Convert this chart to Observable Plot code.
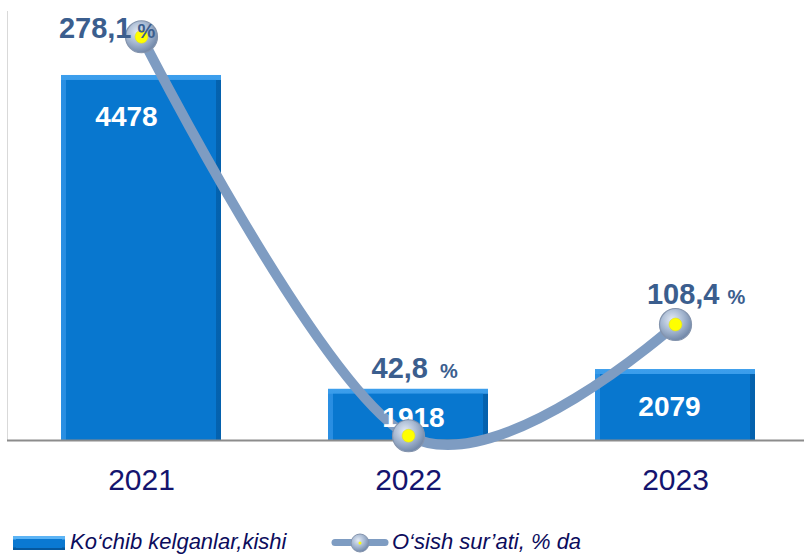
<!DOCTYPE html>
<html><head><meta charset="utf-8">
<script src="https://cdn.jsdelivr.net/npm/d3@7"></script>
<script src="https://cdn.jsdelivr.net/npm/@observablehq/plot@0.6"></script>
<style>
body{margin:0;background:#fff;font-family:Arial,"Liberation Sans",sans-serif;}
#wrap{width:804px;}
#legend{position:relative;width:804px;height:34px;}
.lg-text{position:absolute;top:11px;font-size:22px;line-height:22px;font-style:italic;color:#0c0c5c;white-space:nowrap;}
.lg-bar{position:absolute;left:13px;top:16px;width:52px;height:14px;box-sizing:border-box;
  background:linear-gradient(#5cb4f5 0,#5cb4f5 3px,#0a78d0 4px,#0a78d0 11px,#05589e 12px);}
.lg-bar:before{content:"";position:absolute;left:3px;right:3px;top:3px;bottom:2px;background:#0a79d2;}
</style></head><body>
<svg width="0" height="0" style="position:absolute">
<defs>
<radialGradient id="ptGrad" cx="0.4" cy="0.35" r="0.7">
<stop offset="0" stop-color="#e4ebf5"/><stop offset="0.5" stop-color="#a7b9d2"/><stop offset="1" stop-color="#6a81a3"/>
</radialGradient>
<linearGradient id="sideGrad" x1="0" x2="1" y1="0" y2="0">
<stop offset="0" stop-color="#2a8fe3"/><stop offset="0.5" stop-color="#0a78d0"/><stop offset="1" stop-color="#0461ad"/>
</linearGradient>
<linearGradient id="topGrad" x1="0" x2="0" y1="0" y2="1">
<stop offset="0" stop-color="#3c9eec"/><stop offset="1" stop-color="#1f88dc"/>
</linearGradient>
</defs></svg>
<div id="wrap"></div>
<div id="legend">
  <div class="lg-bar"></div>
  <div class="lg-text" style="left:70px">Ko‘chib kelganlar,kishi</div>
  <svg style="position:absolute;left:328px;top:12px" width="64" height="22">
    <line x1="7" x2="57" y1="10.5" y2="10.5" stroke="#7e9cc2" stroke-width="7" stroke-linecap="round"/>
    <circle cx="32" cy="11" r="9" fill="url(#ptGrad)" stroke="#8494ad" stroke-width="1"/>
    <circle cx="32" cy="11" r="1.5" fill="#ffff00"/>
  </svg>
  <div class="lg-text" style="left:392px">O‘sish sur’ati, % da</div>
</div>
<script>
const years = ["2021", "2022", "2023"];
const migrants = [4478, 1918, 2079];
const growth = [278.1, 42.8, 108.4];
const yMin = 1500, yMax = 5000;
const pctMin = 40, pctMax = 293;

const toBar = p => yMin + (p - pctMin) * (yMax - yMin) / (pctMax - pctMin);
const fmt = v => v.toFixed(1).replace(".", ",");
const data = years.map((year, i) => ({year, value: migrants[i], pct: growth[i], i}));

const barLabel = (i, dx, dy) => Plot.text(data, {filter: d => d.i === i, x: "year", y: "value",
  text: d => String(d.value), dx, dy, fill: "white", fontSize: 28, fontWeight: "bold", lineAnchor: "middle"});
const pctNum = (i, dx, dy) => Plot.text(data, {filter: d => d.i === i, x: "year", y: d => toBar(d.pct),
  text: d => fmt(d.pct), dx, dy, textAnchor: "end", lineAnchor: "bottom", fill: "#3b5e8e", fontSize: 29, fontWeight: "bold"});
const pctSign = (i, dx, dy) => Plot.text(data, {filter: d => d.i === i, x: "year", y: d => toBar(d.pct),
  text: () => "%", dx, dy, textAnchor: "start", lineAnchor: "bottom", fill: "#3b5e8e", fontSize: 20, fontWeight: "bold"});

const chart = Plot.plot({
  width: 804, height: 520,
  marginLeft: 7, marginRight: 0, marginTop: 11, marginBottom: 80,
  x: {domain: years, paddingInner: 0.4, paddingOuter: 0.1908, align: 0.529, label: null},
  y: {domain: [yMin, yMax], axis: null},
  style: {fontFamily: "Arial, 'Liberation Sans', sans-serif", background: "transparent", overflow: "visible"},
  marks: [
    Plot.frame({anchor: "left", stroke: "#d9d9d9"}),
    Plot.barY(data, {x: "year", y1: yMin, y2: "value", fill: "url(#topGrad)"}),
    Plot.barY(data, {x: "year", y1: yMin, y2: "value", insetTop: 5, fill: "url(#sideGrad)"}),
    Plot.barY(data, {x: "year", y1: yMin, y2: "value", insetTop: 5, insetLeft: 5, insetRight: 5, fill: "#0877cf"}),
    Plot.ruleY([yMin], {stroke: "#8c8c8c", strokeWidth: 2}),
    Plot.line(data, {x: "year", y: d => toBar(d.pct), curve: "cardinal", stroke: "#7e9cc2", strokeWidth: 10, strokeLinecap: "round"}),
    barLabel(0, -15, 42),
    barLabel(1, 5, 29),
    barLabel(2, -6, 38),
    Plot.dot(data, {x: "year", y: d => toBar(d.pct), r: 16, fill: "url(#ptGrad)", stroke: "#8494ad", strokeWidth: 1.2}),
    Plot.dot(data, {x: "year", y: d => toBar(d.pct), r: 6.5, fill: "#ffff00", stroke: "#d8d820", strokeWidth: 0.5}),
    pctNum(0, -10, 1), pctSign(0, -4, 1),
    pctNum(1, 19.5, -58), pctSign(1, 31.5, -58),
    pctNum(2, 44, -21), pctSign(2, 52, -21),
    Plot.axisX({tickSize: 0, tickPadding: 28, fontSize: 30, color: "#14146e", label: null})
  ]
});
document.getElementById("wrap").appendChild(chart);
</script>
</body></html>
